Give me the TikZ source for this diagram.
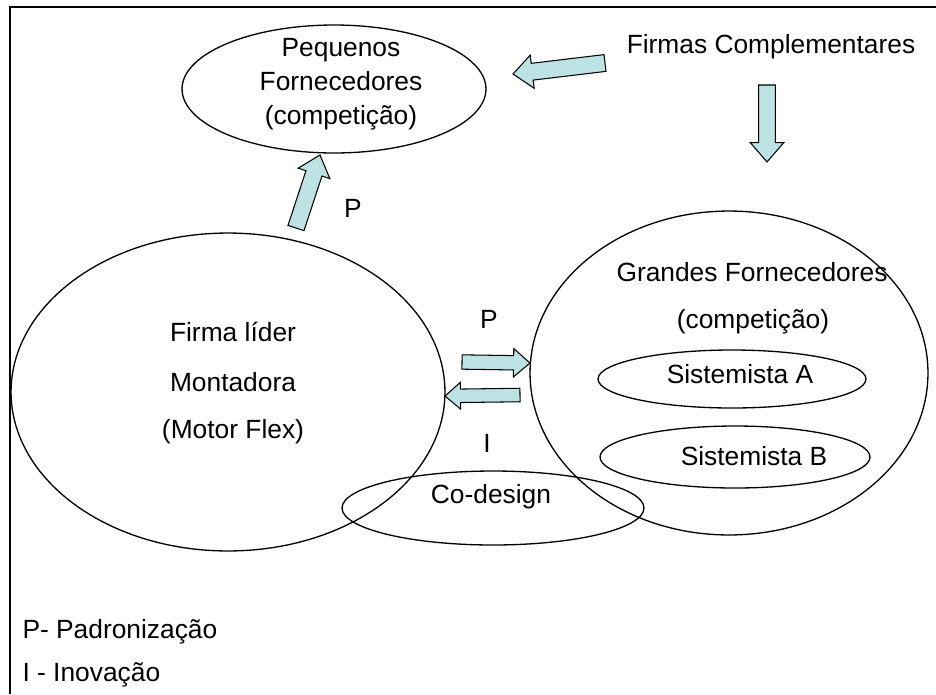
\documentclass[tikz,border=0pt]{standalone}
\usepackage{fontspec}
\setmainfont{Liberation Sans}
\usetikzlibrary{positioning, calc, shapes.geometric}
\definecolor{setafill}{RGB}{189,226,228}

% block arrow from tail #2 to tip #3, #1 scales the widths
\newcommand{\seta}[3][1]{%
  \coordinate (sh) at ($(#3)!#1*11pt!(#2)$);
  \draw[seta] ($(#2)!#1*4.8pt!90:(#3)$) -- ($(sh)!#1*4.8pt!90:(#3)$) -- ($(sh)!#1*9.5pt!90:(#3)$) -- (#3)
    -- ($(sh)!#1*9.5pt!-90:(#3)$) -- ($(sh)!#1*4.8pt!-90:(#3)$) -- ($(#2)!#1*4.8pt!-90:(#3)$) -- cycle;}

\begin{document}
\begin{tikzpicture}[x=0.02cm, y=-0.02cm, line width=0.75pt,
  every node/.style={font=\fontsize{15pt}{19.3pt}\selectfont},
  elli/.style={draw, ellipse, inner sep=0pt},
  seta/.style={draw=black, fill=setafill, line width=0.6pt, line join=miter}]

\useasboundingbox (0,0) rectangle (936,694);
\draw (936,7) -| (10,694);

% top
\node[elli, minimum width=6.08cm, minimum height=2.56cm] (pf) at (334,89) {};
\node[align=center] (pftxt) at (341,84) {Pequenos\\Fornecedores\\(competição)};
\node (fc) at (771,47) {Firmas Complementares};

% left circle (firma lider)
\node[elli, minimum width=8.68cm, minimum height=6.36cm] (lider) at (228,392) {};
\node (l1) at (233,332) {Firma líder};
\node (l2) at (233,382) {Montadora};
\node (l3) at (233,432) {(Motor Flex)};

% right circle (grandes fornecedores)
\node[elli, minimum width=7.96cm, minimum height=6.48cm] (gf) at (729,373) {};
\node (g1) at (752,272) {Grandes Fornecedores};
\node (g2) at (753,322) {(competição)};
\node[elli, minimum width=5.36cm, minimum height=1.16cm] (sa) at (732,379) {};
\node (satxt) at (740,374) {Sistemista A};
\node[elli, minimum width=5.4cm, minimum height=1.24cm] (sb) at (735,457) {};
\node (sbtxt) at (754,456) {Sistemista B};

% co-design
\node[elli, minimum width=6.04cm, minimum height=1.48cm] (cd) at (493,508) {};
\node (cdtxt) at (491,497) {Co-design};

% arrows
\coordinate (fc-t) at (605,63);
\coordinate (fc-h) at (513,74);
\coordinate (dn-t) at (767,85);
\coordinate (dn-h) at (767,162);
\coordinate (up-t) at (296,228);
\coordinate (up-h) at (320,155);
\coordinate (rt-t) at (462,362);
\coordinate (rt-h) at (530,363);
\coordinate (lt-t) at (520,395);
\coordinate (lt-h) at (445,396);

\seta{fc-t}{fc-h}
\seta{dn-t}{dn-h}
\seta{up-t}{up-h}
\seta[0.85]{rt-t}{rt-h}
\seta[0.8]{lt-t}{lt-h}

\node (p1) at (353,208) {P};
\node (p2) at (489,319) {P};
\node (i1) at (487,443) {I};

% legend
\node[anchor=west] (lp) at (16,632) {P- Padronização};
\node[anchor=west] (li) at (16,675) {I - Inovação};

\end{tikzpicture}
\end{document}
